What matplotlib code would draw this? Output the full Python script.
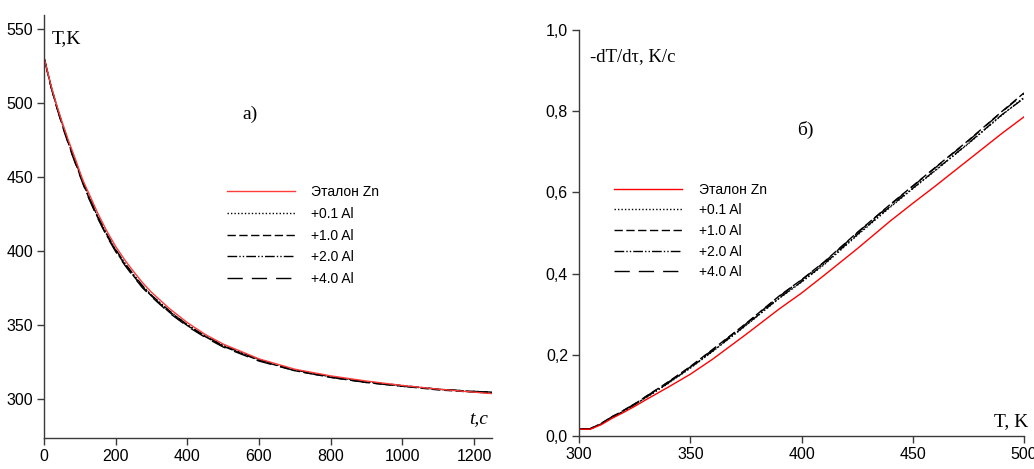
import matplotlib
matplotlib.use("Agg")
import matplotlib.pyplot as plt

# panel a) cooling curves T(t)
t_sec = [0, 10, 20, 30, 40, 50, 60, 70, 80, 90,
         100, 110, 125, 150, 175, 200, 225, 250, 275, 300,
         350, 400, 450, 500, 600, 700, 800, 900, 1000, 1100,
         1200, 1250]
T_zn = [531, 521, 511.5, 503, 495, 487.5, 480.5, 473.5, 467, 460.5,
        453.5, 447, 439, 425.5, 413.5, 403, 394, 386, 378.5, 372,
        361, 351.5, 343.5, 337, 327, 320, 315.5, 312, 309, 306.5,
        304.5, 303.5]
T_01 = [531, 521, 511, 502.5, 494, 486.5, 479, 472, 465, 458.5,
        452, 445.5, 436.5, 423, 411, 400.5, 391.5, 383.5, 376, 370,
        359, 350, 342.5, 336, 326.5, 319.5, 315, 311.5, 308.5, 306.5,
        304.5, 304]
T_10 = [530.5, 520.5, 510.5, 502, 493.5, 486, 478.5, 471.5, 464.5, 458,
        451.5, 445, 436, 422.5, 410.5, 400, 391, 383, 375.5, 369.5,
        358.5, 349.5, 342, 335.5, 326, 319, 314.5, 311, 308.5, 306,
        304.5, 304]
T_20 = [531, 521, 511, 502.5, 494.5, 487, 479.5, 472.5, 465.5, 459,
        452.5, 446, 437, 423.5, 411.5, 401, 392, 384, 376.5, 370,
        359.5, 350, 342.5, 336, 326.5, 319.5, 315, 311.5, 309, 306.5,
        305, 304.5]
T_40 = [530.5, 520.5, 510.5, 501.5, 493.5, 485.5, 478, 471, 464, 457.5,
        451, 444.5, 435.5, 422, 410, 399.5, 390.5, 382.5, 375, 369,
        358, 349, 341.5, 335, 325.5, 319, 314.5, 311, 308.5, 306.5,
        305, 304.5]

# panel б) cooling rate vs temperature
T_k = [300, 305, 310, 315, 320, 325, 330, 340, 350, 360, 375,
       390, 400, 410, 425, 440, 450, 460, 475, 490, 500]
v_zn = [0.0165, 0.0165, 0.028, 0.044, 0.058, 0.073, 0.089, 0.120, 0.152, 0.189, 0.250,
        0.313, 0.352, 0.395, 0.461, 0.530, 0.573, 0.615, 0.680, 0.745, 0.786]
v_01 = [0.0165, 0.017, 0.029, 0.046, 0.061, 0.077, 0.094, 0.129, 0.167, 0.208, 0.272,
        0.339, 0.379, 0.421, 0.494, 0.564, 0.609, 0.653, 0.720, 0.790, 0.834]
v_10 = [0.0165, 0.018, 0.031, 0.048, 0.063, 0.079, 0.097, 0.133, 0.171, 0.213, 0.277,
        0.345, 0.385, 0.428, 0.501, 0.571, 0.616, 0.661, 0.728, 0.799, 0.845]
v_20 = [0.0165, 0.0175, 0.030, 0.046, 0.061, 0.077, 0.095, 0.130, 0.168, 0.209, 0.273,
        0.340, 0.380, 0.423, 0.496, 0.566, 0.610, 0.654, 0.721, 0.791, 0.832]
v_40 = [0.0165, 0.018, 0.031, 0.048, 0.063, 0.079, 0.097, 0.132, 0.170, 0.212, 0.276,
        0.344, 0.384, 0.427, 0.500, 0.570, 0.615, 0.660, 0.727, 0.798, 0.843]

labels = ["Эталон Zn", "+0.1 Al", "+1.0 Al", "+2.0 Al", "+4.0 Al"]
styles = [
    "-",
    (0, (1, 1.5)),
    (0, (6, 2.5)),
    (0, (7, 1.5, 1, 1.5, 1, 1.5)),
    (0, (11, 6.5)),
]

xt_a = [0, 200, 400, 600, 800, 1000, 1200]
yt_a = [300, 350, 400, 450, 500, 550]
xt_b = [300, 350, 400, 450, 500]
yt_b = [0.0, 0.2, 0.4, 0.6, 0.8, 1.0]
yt_b_labels = ["0,0", "0,2", "0,4", "0,6", "0,8", "1,0"]

tick_font = ["Liberation Sans Narrow", "Liberation Sans", "DejaVu Sans"]
serif = ["Liberation Serif", "DejaVu Serif"]
spine_col = "#3a3a3a"

fig = plt.figure(figsize=(10.34, 4.69), dpi=100)
ax1 = fig.add_axes([0.04255, 0.0661, 0.4333, 0.9019])
ax2 = fig.add_axes([0.5600, 0.0704, 0.4303, 0.8656])


def style_axes(ax):
    for side in ("top", "right"):
        ax.spines[side].set_visible(False)
    for side in ("left", "bottom"):
        ax.spines[side].set_color(spine_col)
        ax.spines[side].set_linewidth(1.0)
    ax.tick_params(direction="out", length=5, width=1.0, color=spine_col,
                   labelsize=11.5, pad=3)
    for lab in ax.get_xticklabels() + ax.get_yticklabels():
        lab.set_family(tick_font)


# panel a)
red_a = "#ff3b3b"
ax1.plot(t_sec, T_01, color="black", lw=1.0, ls=styles[1], label=labels[1])
ax1.plot(t_sec, T_10, color="black", lw=1.0, ls=styles[2], label=labels[2])
ax1.plot(t_sec, T_20, color="black", lw=1.0, ls=styles[3], label=labels[3])
ax1.plot(t_sec, T_40, color="black", lw=1.0, ls=styles[4], label=labels[4])
ax1.plot(t_sec, T_zn, color=red_a, lw=1.0, ls=styles[0], label=labels[0])
ax1.set_xlim(0, 1250)
ax1.set_ylim(273.5, 559.5)
ax1.set_xticks(xt_a)
ax1.set_yticks(yt_a)
style_axes(ax1)
ax1.text(0.018, 0.945, "T,K", transform=ax1.transAxes, family=serif,
         fontsize=14, ha="left", va="center")
ax1.text(0.46, 0.765, "a)", transform=ax1.transAxes, family=serif,
         fontsize=14, ha="center", va="center")
ax1.text(0.99, 0.045, "t,c", transform=ax1.transAxes, family=serif,
         fontsize=14, style="italic", ha="right", va="center")
h, l = ax1.get_legend_handles_labels()
order = [4, 0, 1, 2, 3]
ax1.legend([h[i] for i in order], [l[i] for i in order],
           loc="upper left", bbox_to_anchor=(0.38, 0.627), frameon=False,
           handlelength=4.9, handletextpad=1.2, labelspacing=0.55,
           prop={"family": tick_font, "size": 10})

# panel б)
ax2.plot(T_k, v_01, color="black", lw=1.0, ls=styles[1], label=labels[1])
ax2.plot(T_k, v_10, color="black", lw=1.0, ls=styles[2], label=labels[2])
ax2.plot(T_k, v_20, color="black", lw=1.0, ls=styles[3], label=labels[3])
ax2.plot(T_k, v_40, color="black", lw=1.0, ls=styles[4], label=labels[4])
ax2.plot(T_k, v_zn, color="red", lw=1.0, ls=styles[0], label=labels[0])
ax2.set_xlim(300, 500)
ax2.set_ylim(0, 1.0)
ax2.set_xticks(xt_b)
ax2.set_yticks(yt_b)
ax2.set_yticklabels(yt_b_labels)
style_axes(ax2)
ax2.text(0.025, 0.935, "-dT/d\u03c4, K/c", transform=ax2.transAxes,
         family=serif, fontsize=13.5, ha="left", va="center")
ax2.text(0.508, 0.755, "б)", transform=ax2.transAxes, family=serif,
         fontsize=14, ha="center", va="center")
ax2.text(1.01, 0.035, "T, K", transform=ax2.transAxes, family=serif,
         fontsize=14, ha="right", va="center")
h, l = ax2.get_legend_handles_labels()
ax2.legend([h[i] for i in order], [l[i] for i in order],
           loc="upper left", bbox_to_anchor=(0.05, 0.655), frameon=False,
           handlelength=4.9, handletextpad=1.2, labelspacing=0.48,
           prop={"family": tick_font, "size": 10})

fig.savefig("out.png", dpi=100)
